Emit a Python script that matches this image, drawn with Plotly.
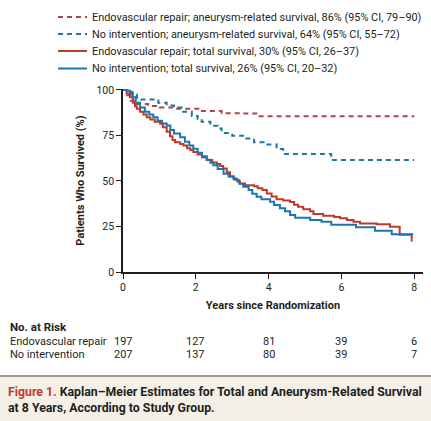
import plotly.graph_objects as go

# ---- data ----
endo_total_t = [0, 0.1, 0.19, 0.27, 0.33, 0.38, 0.47, 0.56, 0.65, 0.75, 0.87, 1.02, 1.1, 1.2, 1.29, 1.36, 1.43,
                1.57, 1.66, 1.76, 1.85, 1.93, 2.05, 2.17, 2.3, 2.45, 2.58, 2.67, 2.75, 2.85, 2.94, 3.05, 3.15,
                3.21, 3.35, 3.6, 3.7, 3.83, 3.95, 4.08, 4.22, 4.4, 4.59, 4.7, 4.81, 4.95, 5.14, 5.23, 5.5,
                5.8, 5.96, 6.15, 6.33, 6.51, 6.97, 7.33, 7.6, 7.93, 7.95]
endo_total_s = [100, 98, 96, 93, 91, 89.6, 88, 86.5, 85, 83.8, 82.5, 81.4, 79.5, 77, 74.5, 72.5, 71.3,
                70.3, 69.5, 68, 67, 65.9, 64.5, 63, 61.5, 60.2, 59.3, 58.2, 56.8, 54.8, 52.5, 50.8, 49.5,
                48.6, 47.7, 47.1, 46, 45, 43.1, 41.5, 40, 39.2, 38.5, 37, 35.8, 34.5, 33.3, 31.8, 30.9,
                30.2, 29.5, 28.6, 27.6, 26.7, 26.2, 24.9, 20.4, 17.1, 17.1]

noint_total_t = [0, 0.12, 0.19, 0.27, 0.35, 0.47, 0.6, 0.72, 0.83, 0.95, 1.07, 1.2, 1.3, 1.4, 1.57, 1.7, 1.82,
                 1.93, 2.05, 2.17, 2.3, 2.4, 2.48, 2.6, 2.76, 2.9, 3.03, 3.12, 3.2, 3.3, 3.45, 3.55, 3.67,
                 3.8, 4.04, 4.15, 4.31, 4.45, 4.59, 4.73, 5.14, 5.45, 5.72, 6.4, 6.92, 7.38, 7.97]
noint_total_s = [100, 99.5, 98.6, 96, 93, 90.4, 88, 86.5, 85, 83, 81.5, 80.4, 78, 76, 74, 71.5, 69.5,
                 67.7, 65.5, 63.5, 61.7, 60, 58.6, 56.5, 54, 52.5, 51.3, 50.4, 48.5, 46.8, 45, 43, 41.3,
                 40, 38.6, 36.8, 35, 33.3, 31.3, 29.8, 28.6, 27.6, 25.9, 24.6, 22.6, 20.7, 20.7]

endo_aneur_t = [0, 0.1, 0.2, 0.33, 0.69, 1.0, 1.43, 2.07, 2.71, 3.3, 3.75, 8.0]
endo_aneur_s = [100, 97, 94, 92.2, 91.2, 90.3, 89.7, 88.4, 87.2, 87, 85.5, 85.5]

noint_aneur_t = [0, 0.15, 0.24, 0.38, 0.5, 0.97, 1.2, 1.4, 1.61, 1.89, 2.05, 2.16, 2.4, 2.6, 2.71, 3.0, 3.3,
                 3.6, 3.9, 4.22, 4.4, 5.72, 8.0]
noint_aneur_s = [100, 99, 97.5, 95.7, 94.8, 93, 91.5, 90.3, 88, 85.7, 84, 82.5, 80.3, 78.8, 76.3, 74.8, 73.3,
                 71.2, 70, 67.5, 64.8, 61.5, 61.5]

legend_names = [
    "Endovascular repair; aneurysm-related survival, 86% (95% CI, 79\u201390)",
    "No intervention; aneurysm-related survival, 64% (95% CI, 55\u201372)",
    "Endovascular repair; total survival, 30% (95% CI, 26\u201337)",
    "No intervention; total survival, 26% (95% CI, 20\u201332)",
]

risk_years = [0, 2, 4, 6, 8]
risk_endo = [197, 127, 81, 39, 6]
risk_noint = [207, 137, 80, 39, 7]
x_ticks = [0, 2, 4, 6, 8]
y_ticks = [0, 25, 50, 75, 100]

RED = "#c0392b"
BLUE = "#1b75b0"
RED_D = "#b0454a"
BLUE_D = "#21779e"
TXT = "#231f20"
FONT = "Roboto"

styles = [
    dict(color=RED_D, width=2, dash="5px,4px"),
    dict(color=BLUE_D, width=2, dash="5px,4px"),
    dict(color=RED, width=2),
    dict(color=BLUE, width=2),
]
series = [(endo_aneur_t, endo_aneur_s), (noint_aneur_t, noint_aneur_s),
          (endo_total_t, endo_total_s), (noint_total_t, noint_total_s)]

fig = go.Figure()
for (tt, ss), st, nm in zip(series, styles, legend_names):
    fig.add_trace(go.Scatter(x=tt, y=ss, mode="lines", line_shape="hv", line=st, name=nm, showlegend=False))

L, T, W, H = 123, 89, 300, 183
def px_x(p):
    return (p - L) / W
def px_y(p):
    return (T + H - p) / H

# legend (drawn as shapes + text)
legend_rows = [17, 34, 51, 68.5]
annotations = []
for row, st, nm in zip(legend_rows, styles, legend_names):
    fig.add_shape(type="line", xref="paper", yref="paper", x0=px_x(58), x1=px_x(87), y0=px_y(row), y1=px_y(row),
                  line=st)
    annotations.append(dict(text=nm, xref="paper", yref="paper", x=px_x(90), y=px_y(row), xanchor="left",
                            yanchor="middle", showarrow=False, font=dict(size=10.9, color=TXT, family=FONT)))

# caption box
fig.add_shape(type="rect", xref="paper", yref="paper", x0=px_x(-5), x1=px_x(440), y0=px_y(376), y1=px_y(430),
              fillcolor="#f4efe7", line=dict(width=0), layer="below")
fig.add_shape(type="line", xref="paper", yref="paper", x0=px_x(-5), x1=px_x(440), y0=px_y(376), y1=px_y(376),
              line=dict(color="#7d7d7d", width=1.5))

annotations.append(dict(text="<b>No. at Risk</b>", xref="paper", yref="paper", x=px_x(8), y=px_y(327),
                        xanchor="left", yanchor="middle", showarrow=False, font=dict(size=11.5, color=TXT, family=FONT)))
annotations.append(dict(text="Endovascular repair", xref="paper", yref="paper", x=px_x(8), y=px_y(341),
                        xanchor="left", yanchor="middle", showarrow=False, font=dict(size=11, color=TXT, family=FONT)))
annotations.append(dict(text="No intervention", xref="paper", yref="paper", x=px_x(8), y=px_y(354),
                        xanchor="left", yanchor="middle", showarrow=False, font=dict(size=11, color=TXT, family=FONT)))
for yr, a, b in zip(risk_years, risk_endo, risk_noint):
    annotations.append(dict(text=str(a), xref="x", yref="paper", x=yr, y=px_y(341), xanchor="center",
                            yanchor="middle", showarrow=False, font=dict(size=11, color=TXT, family=FONT)))
    annotations.append(dict(text=str(b), xref="x", yref="paper", x=yr, y=px_y(354), xanchor="center",
                            yanchor="middle", showarrow=False, font=dict(size=11, color=TXT, family=FONT)))
annotations.append(dict(text="<span style='color:#c0392b'>Figure 1.</span> Kaplan\u2013Meier Estimates for Total and Aneurysm-Related Survival",
                        xref="paper", yref="paper", x=px_x(6), y=px_y(392), xanchor="left", yanchor="middle",
                        showarrow=False, font=dict(size=12.3, color=TXT, family=FONT, weight="bold")))
annotations.append(dict(text="at 8 Years, According to Study Group.",
                        xref="paper", yref="paper", x=px_x(6), y=px_y(408), xanchor="left", yanchor="middle",
                        showarrow=False, font=dict(size=12.3, color=TXT, family=FONT, weight="bold")))

fig.update_layout(
    width=431, height=421,
    margin=dict(l=L, r=431 - L - W, t=T, b=421 - T - H, autoexpand=False),
    paper_bgcolor="white", plot_bgcolor="white",
    font=dict(family=FONT, color=TXT, size=10.5),
    showlegend=False,
    annotations=annotations,
    xaxis=dict(range=[0, 8.24], tickvals=x_ticks, ticks="outside", ticklen=5, tickcolor=TXT,
               showline=True, linecolor=TXT, linewidth=1.5, showgrid=False, zeroline=False,
               tickfont=dict(size=10.5, color=TXT),
               title=dict(text="<b>Years since Randomization</b>", font=dict(size=11, color=TXT), standoff=8)),
    yaxis=dict(range=[0, 100.5], tickvals=y_ticks, ticks="outside", ticklen=5, tickcolor=TXT,
               showline=True, linecolor=TXT, linewidth=1.5, showgrid=False, zeroline=False,
               tickfont=dict(size=10.5, color=TXT),
               title=dict(text="<b>Patients Who Survived (%)</b>", font=dict(size=11, color=TXT), standoff=10)),
)

fig.write_html("out.html", config={"displayModeBar": False},
               post_script="document.body.style.margin='0';document.body.style.overflow='hidden';")
